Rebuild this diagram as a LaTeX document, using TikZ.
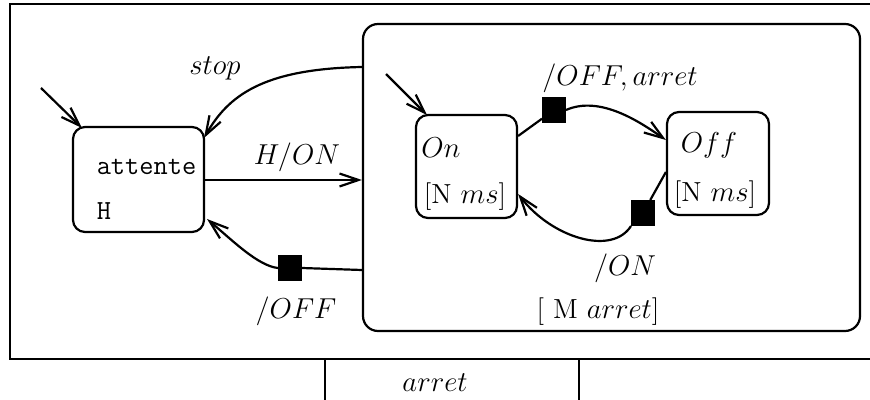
\documentclass[tikz,border=0pt]{standalone}
\usetikzlibrary{arrows.meta}
\begin{document}
\begin{tikzpicture}[x=0.5pt,y=-0.5pt, line width=1.1pt,
  st/.style={draw, rounded corners=6pt, inner sep=0pt},
  sq/.style={fill=black, draw=black, line width=0.5pt, minimum width=11.5pt, minimum height=12.5pt, inner sep=0pt},
  arr/.style={-{Straight Barb[length=9.5pt,width=6.5pt,line width=1.1pt]}},
  lbl/.style={inner sep=0pt, font=\fontsize{13.8}{16}\selectfont},
  ttl/.style={inner sep=0pt, font=\fontsize{13.8}{16}\selectfont\ttfamily}]
\useasboundingbox (0,0) rectangle (870,400);
\clip (0,0) rectangle (870,400);
% frames
\draw (10,4) rectangle (900,359);
\draw (325,359) rectangle (579,410);
\node[lbl] (tarret) at (435,383) {$arret$};
% states
\node[st, minimum width=65.5pt, minimum height=52.5pt] (attente) at (138.5,179.5) {};
\node[st, rounded corners=7.5pt, minimum width=248.5pt, minimum height=153.5pt] (big) at (611.5,177.5) {};
\node[st, minimum width=50.5pt, minimum height=51.5pt] (on) at (466.5,166.5) {};
\node[st, minimum width=51pt, minimum height=51.5pt] (off) at (718,163.5) {};
% state texts
\node[ttl] (tatt) at (146.5,167) {attente};
\node[ttl] (tH) at (104,211) {H};
\node[lbl] (ton) at (441,148) {$On$};
\node[lbl] (tonms) at (465,197) {[N $ms$]};
\node[lbl] (toff) at (709,145) {$Off$};
\node[lbl] (toffms) at (715,195) {[N $ms$]};
% squares
\node[sq] (s1) at (290,268) {};
\node[sq] (s2) at (554,110) {};
\node[sq] (s3) at (643,213) {};
% initial arrows
\coordinate (i1) at (41,88); \coordinate (e1) at (82,128);
\coordinate (i2) at (386,74); \coordinate (e2) at (427,115);
\draw[arr] (i1) -- (e1);
\draw[arr] (i2) -- (e2);
% stop
\coordinate (e3) at (204,138);
\draw[arr] (big.west |- 0,67) .. controls (262,69) and (228,96) .. (e3);
\node[lbl] (lstop) at (215,68) {$stop$};
% H/ON
\draw[arr] (attente.east |- 0,180) -- (big.west |- 0,180);
\node[lbl] (lhon) at (297,157) {$H/ON$};
% /OFF
\coordinate (e4) at (207,219);
\draw (big.west |- 0,270) -- (s1.east);
\draw[arr] (s1.west) .. controls (258,266) and (232,240) .. (e4);
\node[lbl] (loff) at (296,311) {$/OFF$};
% On -> Off
\draw (on.east |- 0,136) -- (s2);
\draw[arr] (s2.east) .. controls (600,95) and (640,122) .. (off.west |- 0,140);
\node[lbl] (loffarret) at (620,78) {$/OFF, arret$};
% Off -> On
\draw (off.west |- 0,172) -- (s3);
\draw[arr] (s3.south west) .. controls (612,256) and (552,238) .. (on.east |- 0,194);
\node[lbl] (lon) at (625,268) {$/ON$};
\node[lbl] (lmarret) at (598,312) {[ M $arret$]};
\end{tikzpicture}
\end{document}
